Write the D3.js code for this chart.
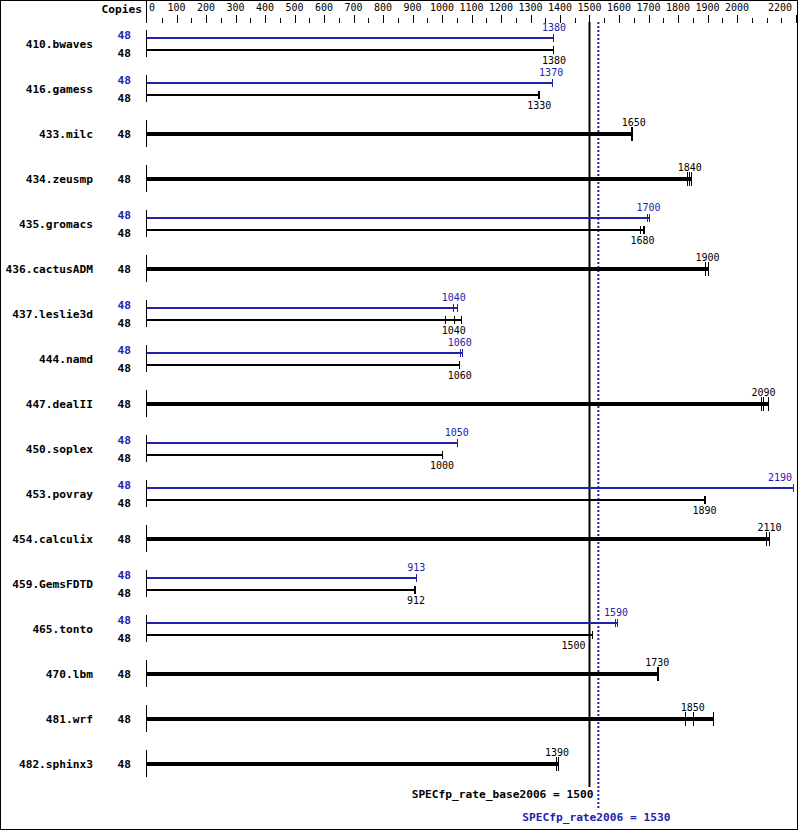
<!DOCTYPE html>
<html><head><meta charset="utf-8">
<script src="https://cdn.jsdelivr.net/npm/d3@7"></script>
<style>
html,body{margin:0;padding:0;background:#fff;}
svg{display:block;}
text{font-family:'DejaVu Sans Mono',monospace;}
</style></head>
<body>
<script>
// ---- data ----
const benchmarks = ["410.bwaves","416.gamess","433.milc","434.zeusmp","435.gromacs","436.cactusADM","437.leslie3d","444.namd","447.dealII","450.soplex","453.povray","454.calculix","459.GemsFDTD","465.tonto","470.lbm","481.wrf","482.sphinx3"];
const baseCopies = [48,48,48,48,48,48,48,48,48,48,48,48,48,48,48,48,48];
const peakCopies = [48,48,null,null,48,null,48,48,null,48,48,null,48,48,null,null,null];
const baseScore = [1380,1330,1650,1840,1680,1900,1040,1060,2090,1000,1890,2110,912,1500,1730,1850,1390];
const peakScore = [1380,1370,null,null,1700,null,1040,1060,null,1050,2190,null,913,1590,null,null,null];
const baseRuns = [[1375,1377],[1327,1329],[1642,1645],[1831,1837,1844],[1670,1680,1685],[1890,1900,1901],[1011,1041,1064],[1058,1059],[2080,2089,2104],[999,1000],[1888,1890],[2097,2107,2108],[904,910],[1498,1499,1510],[1730,1732],[1825,1852,1920],[1385,1394]];
const peakRuns = [[1375],[1372],null,null,[1694,1702],null,[1036,1038,1050],[1061,1067],null,[1052],[2190,2191],null,[911,912],[1586,1592],null,null,null];
const axisTicks = [0,50,100,150,200,250,300,350,400,450,500,550,600,650,700,750,800,850,900,950,1000,1050,1100,1150,1200,1250,1300,1350,1400,1450,1500,1550,1600,1650,1700,1750,1800,1850,1900,1950,2000,2050,2100,2150,2200];
const axisLabels = [0,100,200,300,400,500,600,700,800,900,1000,1100,1200,1300,1400,1500,1600,1700,1800,1900,2000,2200];
const baseMean = 1500, peakMean = 1530;
const baseMeanLabel = "SPECfp_rate_base2006 = 1500";
const peakMeanLabel = "SPECfp_rate2006 = 1530";

// ---- layout ----
const W = 799, H = 831;
const BLUE = "#2222b0";
const BF = "11.2px";
const svg = d3.select("body").append("svg").attr("width", W).attr("height", H);
const x = d3.scaleLinear().domain([0, 2200]).range([147, 796]);
const y = d3.scaleLinear().domain([0, 1]).range([43.5, 88.5]); // row centres
const px = v => Math.round(x(v)) + 0.5;

// frame
svg.append("rect").attr("x",0.5).attr("y",0.5).attr("width",797).attr("height",829)
  .attr("fill","none").attr("stroke","#000").attr("stroke-width",1);

// top axis
const ax = svg.append("g").attr("shape-rendering","crispEdges");
ax.append("line").attr("x1",146.5).attr("x2",146.5).attr("y1",0).attr("y2",23).attr("stroke","#000");
axisTicks.forEach(t => {
  if (t === 0) return;
  const major = axisLabels.includes(t);
  ax.append("line").attr("x1",px(t)).attr("x2",px(t))
    .attr("y1", major ? 15 : 18).attr("y2",23).attr("stroke","#000");
});
axisLabels.forEach((t,i) => {
  let anchor = "middle", tx = x(t);
  if (i === 0) { anchor = "start"; tx = x(t) + 2; }
  if (i === axisLabels.length-1) { anchor = "end"; tx = 792; }
  svg.append("text").attr("x",tx).attr("y",10.5).attr("text-anchor",anchor)
    .attr("font-size","10px").attr("fill","#000").text(t);
});
svg.append("text").attr("x",142).attr("y",13).attr("text-anchor","end")
  .attr("font-size",BF).attr("font-weight","bold").text("Copies");

// reference lines
svg.append("line").attr("x1",x(baseMean)).attr("x2",x(baseMean)).attr("y1",22).attr("y2",787)
  .attr("stroke","#000").attr("stroke-width",2);
svg.append("line").attr("x1",x(peakMean)).attr("x2",x(peakMean)).attr("y1",22).attr("y2",809)
  .attr("stroke",BLUE).attr("stroke-width",2).attr("stroke-dasharray","2,2");

const baseLineX = x(baseMean);
function valueLabel(g, v, yb, color) {
  const w = String(v).length * 6.02;
  let cx = x(v);
  let left = cx - w/2, right = cx + w/2;
  if (left < baseLineX + 2 && right > baseLineX - 2) { cx = baseLineX - 4 - w/2; }
  if (cx + w/2 > 792) cx = 792 - w/2;
  g.append("text").attr("x",cx).attr("y",yb).attr("text-anchor","middle")
    .attr("font-size","10px").attr("fill",color).text(v);
}

benchmarks.forEach((name,i) => {
  const c = y(i);
  const g = svg.append("g");
  g.append("text").attr("x",93).attr("y",c+4).attr("text-anchor","end")
    .attr("font-size",BF).attr("font-weight","bold").text(name);
  g.append("line").attr("x1",146.5).attr("x2",146.5).attr("y1",c-13.5).attr("y2",c+13.5)
    .attr("stroke","#000").attr("shape-rendering","crispEdges");
  const two = peakScore[i] !== null;
  if (two) {
    // peak (blue)
    const pe = d3.max(peakRuns[i]);
    g.append("rect").attr("x",x(0)).attr("y",c-6.5).attr("width",x(pe)-x(0)).attr("height",2)
      .attr("fill",BLUE).attr("shape-rendering","crispEdges");
    peakRuns[i].forEach(r => g.append("line").attr("x1",px(r)).attr("x2",px(r))
      .attr("y1",c-9.5).attr("y2",c-1.5).attr("stroke",BLUE).attr("shape-rendering","crispEdges"));
    // base (black)
    const be = d3.max(baseRuns[i]);
    g.append("rect").attr("x",x(0)).attr("y",c+5.5).attr("width",x(be)-x(0)).attr("height",2)
      .attr("fill","#000").attr("shape-rendering","crispEdges");
    baseRuns[i].forEach(r => g.append("line").attr("x1",px(r)).attr("x2",px(r))
      .attr("y1",c+2.5).attr("y2",c+10.5).attr("stroke","#000").attr("shape-rendering","crispEdges"));
    g.append("text").attr("x",131).attr("y",c-4.5).attr("text-anchor","end")
      .attr("font-size",BF).attr("font-weight","bold").attr("fill",BLUE).text(peakCopies[i]);
    g.append("text").attr("x",131).attr("y",c+13).attr("text-anchor","end")
      .attr("font-size",BF).attr("font-weight","bold").attr("fill","#000").text(baseCopies[i]);
    valueLabel(g, peakScore[i], c-12.8, BLUE);
    valueLabel(g, baseScore[i], c+20.8, "#000");
  } else {
    const be = d3.max(baseRuns[i]);
    g.append("rect").attr("x",x(0)).attr("y",c-1.5).attr("width",x(be)-x(0)).attr("height",4)
      .attr("fill","#000").attr("shape-rendering","crispEdges");
    baseRuns[i].forEach(r => g.append("line").attr("x1",px(r)).attr("x2",px(r))
      .attr("y1",c-6.5).attr("y2",c+7.5).attr("stroke","#000").attr("shape-rendering","crispEdges"));
    g.append("text").attr("x",131).attr("y",c+4.5).attr("text-anchor","end")
      .attr("font-size",BF).attr("font-weight","bold").attr("fill","#000").text(baseCopies[i]);
    valueLabel(g, baseScore[i], c-8, "#000");
  }
});

// footer
svg.append("text").attr("x",x(baseMean)+4).attr("y",798).attr("text-anchor","end")
  .attr("font-size",BF).attr("font-weight","bold").attr("fill","#000").text(baseMeanLabel);
svg.append("text").attr("x",x(peakMean)-2).attr("y",821).attr("text-anchor","middle")
  .attr("font-size",BF).attr("font-weight","bold").attr("fill",BLUE).text(peakMeanLabel);
</script>
</body></html>
